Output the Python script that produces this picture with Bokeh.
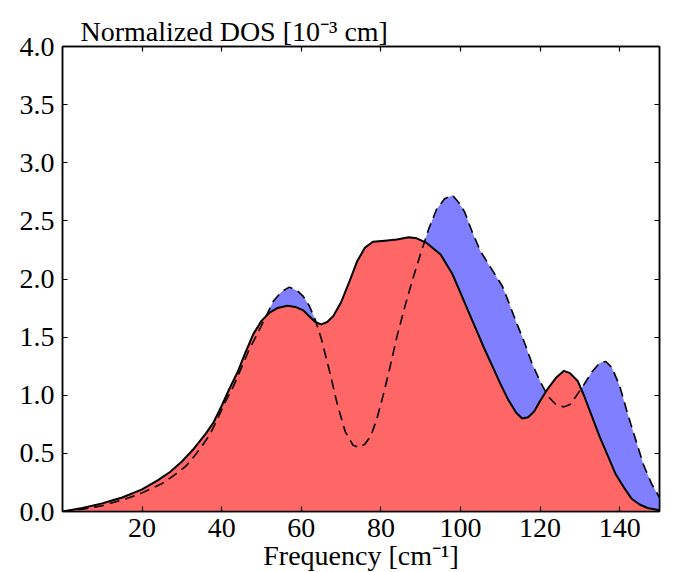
from bokeh.plotting import figure
from bokeh.models import Range1d, LinearAxis, FixedTicker, ColumnDataSource, CustomJSTickFormatter
from bokeh.embed import file_html
from bokeh.resources import INLINE

# Solid curve (red fill below)
solid_x = [0, 5, 10, 12, 15, 20, 24, 27, 30, 33, 36, 38, 40, 42, 44, 46, 48, 50, 52, 54,
           56.5, 58.5, 60.5, 62, 63.5, 65, 66.5, 68, 70, 72, 74, 76, 78, 81, 84, 87, 89,
           91.5, 95, 98, 100, 102, 104, 106, 108, 110, 112, 114, 115.5, 117, 118.5, 120,
           122, 124, 126, 127.5, 129.5, 131, 133, 135, 137, 139, 141, 143, 145, 147, 150]
solid_y = [0.0, 0.03, 0.07, 0.09, 0.12, 0.19, 0.27, 0.34, 0.43, 0.54, 0.67, 0.77, 0.91, 1.06,
           1.20, 1.37, 1.53, 1.64, 1.71, 1.75, 1.77, 1.76, 1.73, 1.68, 1.63, 1.61, 1.63, 1.68,
           1.80, 1.97, 2.15, 2.27, 2.32, 2.33, 2.34, 2.36, 2.35, 2.31, 2.21, 2.04, 1.88, 1.72,
           1.56, 1.40, 1.25, 1.10, 0.96, 0.85, 0.80, 0.81, 0.86, 0.95, 1.06, 1.15, 1.21, 1.19,
           1.12, 1.00, 0.82, 0.64, 0.48, 0.32, 0.21, 0.11, 0.06, 0.03, 0.01]

# Dashed curve (blue fill where above solid)
dash_x = [0, 5, 10, 16, 20, 25, 28, 31, 33, 35, 37, 39, 41, 43, 45, 47, 49, 51, 53, 55, 57,
          59, 60.5, 62, 63.5, 65, 67, 69, 71, 73, 74.5, 76, 77.5, 79, 80.5, 82, 84, 86, 88,
          90, 92, 94, 96, 98, 99.5, 101, 103, 105, 107, 109, 110.5, 112, 114, 116, 118, 120,
          122, 124, 126, 127.5, 129, 131, 133, 135, 136.5, 138, 140, 142, 144, 146, 148, 150]
dash_y = [0.0, 0.02, 0.05, 0.11, 0.16, 0.24, 0.31, 0.39, 0.47, 0.56, 0.66, 0.80, 0.95, 1.08,
          1.24, 1.40, 1.53, 1.67, 1.81, 1.89, 1.93, 1.90, 1.85, 1.77, 1.65, 1.49, 1.22, 0.93,
          0.69, 0.57, 0.55, 0.58, 0.65, 0.80, 0.99, 1.20, 1.50, 1.76, 2.00, 2.22, 2.43, 2.60,
          2.69, 2.72, 2.66, 2.58, 2.40, 2.24, 2.13, 2.02, 1.94, 1.81, 1.63, 1.46, 1.27, 1.12,
          0.99, 0.92, 0.90, 0.92, 0.99, 1.09, 1.20, 1.28, 1.29, 1.24, 1.08, 0.84, 0.62, 0.40,
          0.24, 0.12]

x_ticks = [20, 40, 60, 80, 100, 120, 140]
y_ticks = [0.0, 0.5, 1.0, 1.5, 2.0, 2.5, 3.0, 3.5, 4.0]
title_text = "Normalized DOS [10\u207b\u00b3 cm]"
xlabel_text = "Frequency [cm\u207b\u00b9]"

FONT = "Liberation Serif"
FS = "28px"

p = figure(width=673, height=572, frame_width=597, frame_height=465,
           output_backend="svg", toolbar_location=None,
           x_range=Range1d(0, 150), y_range=Range1d(0, 4),
           min_border_left=62, min_border_right=14, min_border_top=46, min_border_bottom=61)
p.grid.visible = False
p.outline_line_color = "black"
p.outline_line_width = 1.5
p.background_fill_color = "white"
p.border_fill_color = "white"

src_s = ColumnDataSource(dict(x=solid_x, y=solid_y))
src_d = ColumnDataSource(dict(x=dash_x, y=dash_y))

p.varea(x="x", y1=0, y2="y", source=src_d, fill_color="#7F7FFF")
p.varea(x="x", y1=0, y2="y", source=src_s, fill_color="#FF6666")
p.line(x="x", y="y", source=src_d, line_color="black", line_width=1.6, line_dash="10 6")
p.line(x="x", y="y", source=src_s, line_color="black", line_width=2)

def style(ax, show_labels):
    ax.major_tick_in = 5
    ax.major_tick_out = 0
    ax.minor_tick_in = 0
    ax.minor_tick_out = 0
    ax.axis_line_color = "black"
    ax.axis_line_width = 1.5
    ax.major_tick_line_color = "black"
    ax.major_tick_line_width = 1.2
    if show_labels:
        ax.major_label_text_font = FONT
        ax.major_label_text_font_size = FS
        ax.major_label_text_color = "black"
    else:
        ax.major_label_text_font_size = "1px"
        ax.major_label_text_color = None
        ax.major_label_standoff = 0

xa = p.xaxis[0]
xa.ticker = FixedTicker(ticks=x_ticks)
style(xa, True)
xa.major_label_standoff = 7
xa.axis_label = xlabel_text
xa.axis_label_text_font = FONT
xa.axis_label_text_font_size = FS
xa.axis_label_text_font_style = "normal"
xa.axis_label_text_color = "black"
xa.axis_label_standoff = 0

ya = p.yaxis[0]
ya.ticker = FixedTicker(ticks=y_ticks)
style(ya, True)
ya.major_label_standoff = 8
ya.formatter = CustomJSTickFormatter(code="return tick.toFixed(1);")

top = LinearAxis(ticker=FixedTicker(ticks=x_ticks))
style(top, False)
top.major_label_standoff = 3
p.add_layout(top, "above")
right = LinearAxis(ticker=FixedTicker(ticks=y_ticks))
style(right, False)
p.add_layout(right, "right")

p.title.text = title_text
p.title.align = "left"
p.title.offset = 18
p.title.standoff = 0
p.title.text_font = FONT
p.title.text_font_size = FS
p.title.text_font_style = "normal"
p.title.text_color = "black"

open("out.html", "w").write(file_html(p, INLINE))
